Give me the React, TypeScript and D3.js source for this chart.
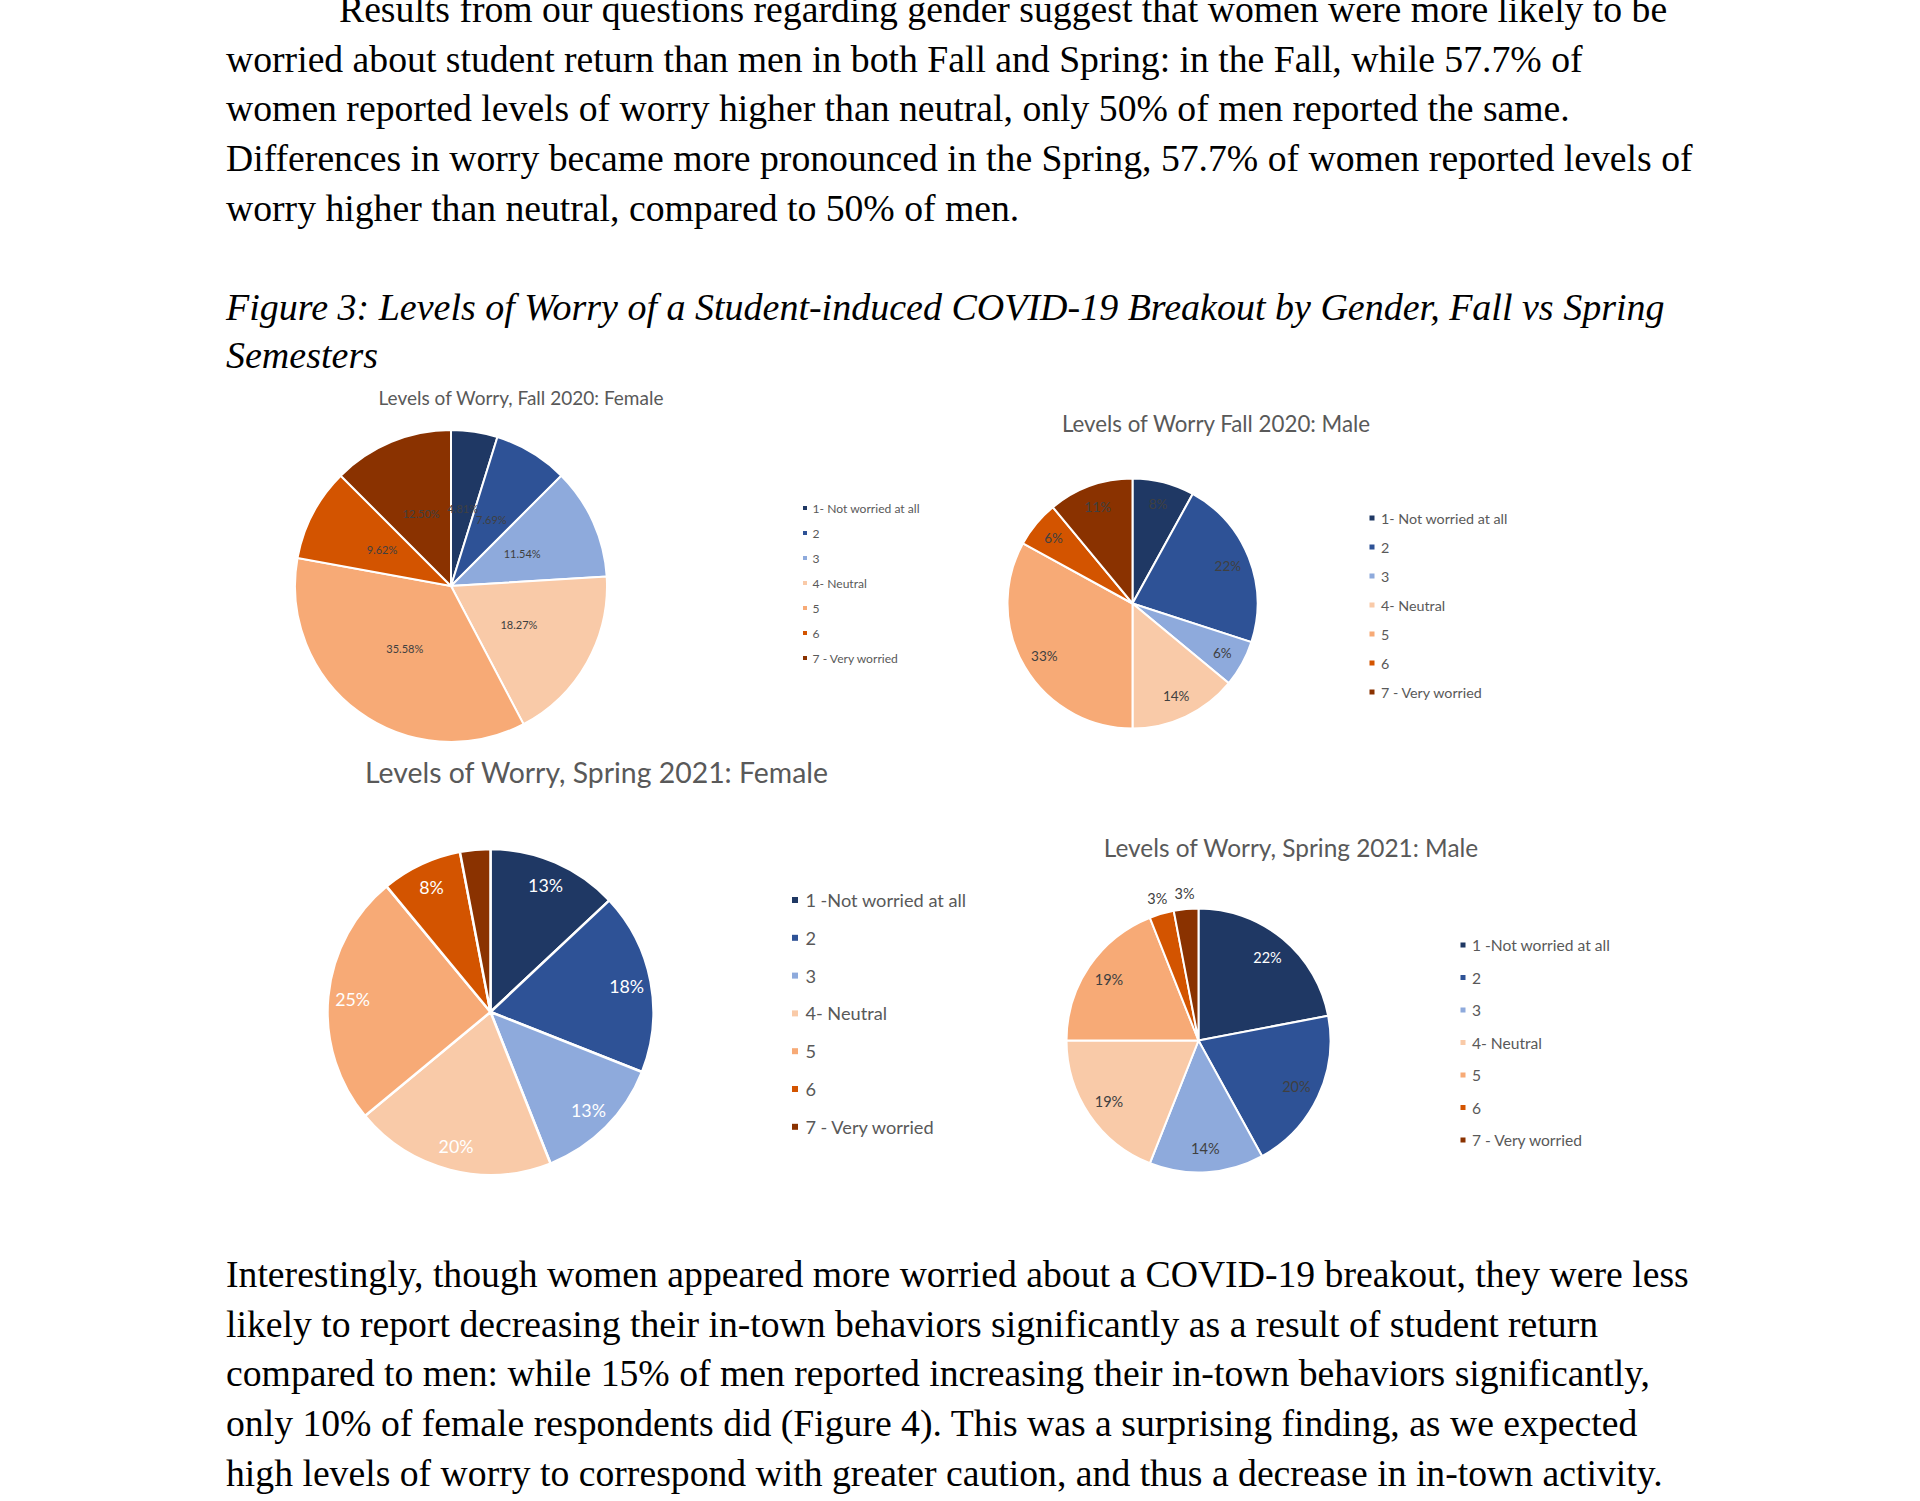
import * as d3 from 'd3';
import * as React from 'react';

const W = 1920;
const H = 1501;

// legend categories (the fall and spring charts spell item 1 differently)
const levelsFall = ['1- Not worried at all', '2', '3', '4- Neutral', '5', '6', '7 - Very worried'];
const levelsSpring = ['1 -Not worried at all', '2', '3', '4- Neutral', '5', '6', '7 - Very worried'];

// percentages per worry level, 1 -> 7
const fallFemale = [4.81, 7.69, 11.54, 18.27, 35.58, 9.62, 12.5];
const fallMale = [8, 22, 6, 14, 33, 6, 11];
const springFemale = [13, 18, 13, 20, 25, 8, 3];
const springMale = [22, 20, 14, 19, 19, 3, 3];

const palette = ['#1f3864', '#2e5296', '#8eaadc', '#f9caa8', '#f7aa76', '#d35400', '#8a3200'];

const paragraphTop = [
  'Results from our questions regarding gender suggest that women were more likely to be',
  'worried about student return than men in both Fall and Spring: in the Fall, while 57.7% of',
  'women reported levels of worry higher than neutral, only 50% of men reported the same.',
  'Differences in worry became more pronounced in the Spring, 57.7% of women reported levels of',
  'worry higher than neutral, compared to 50% of men.',
];
const caption = [
  'Figure 3: Levels of Worry of a Student-induced COVID-19 Breakout by Gender, Fall vs Spring',
  'Semesters',
];
const paragraphBottom = [
  'Interestingly, though women appeared more worried about a COVID-19 breakout, they were less',
  'likely to report decreasing their in-town behaviors significantly as a result of student return',
  'compared to men: while 15% of men reported increasing their in-town behaviors significantly,',
  'only 10% of female respondents did (Figure 4). This was a surprising finding, as we expected',
  'high levels of worry to correspond with greater caution, and thus a decrease in in-town activity.',
];

const serif = "'Liberation Serif', 'Times New Roman', serif";
const sans = "Lato, 'Open Sans', sans-serif";

type Panel = {
  title: string;
  values: number[];
  legend: string[];
  fmt: (v: number) => string;
  cx: number;
  cy: number;
  r: number;
  stroke: number;
  titleX: number;
  titleY: number;
  titleSize: number;
  labelR: number;
  labelSize: number;
  labelFill: (i: number) => string;
  hidden: number[];
  outside: number[];
  legendX: number;
  legendY: number;
  legendStep: number;
  legendSize: number;
  marker: number;
};

const pct2 = (v: number) => d3.format('.2f')(v) + '%';
const pct0 = (v: number) => d3.format('d')(v) + '%';

const panels: Panel[] = [
  {
    title: 'Levels of Worry, Fall 2020: Female',
    values: fallFemale,
    legend: levelsFall,
    fmt: pct2,
    cx: 451, cy: 586, r: 156, stroke: 2,
    titleX: 521, titleY: 405, titleSize: 19,
    labelR: 0.5, labelSize: 11, labelFill: () => '#404040',
    hidden: [], outside: [],
    legendX: 805, legendY: 508, legendStep: 25, legendSize: 12.1, marker: 4,
  },
  {
    title: 'Levels of Worry Fall 2020: Male',
    values: fallMale,
    legend: levelsFall,
    fmt: pct0,
    cx: 1132.5, cy: 603.5, r: 125, stroke: 2,
    titleX: 1216, titleY: 432, titleSize: 22.3,
    labelR: 0.82, labelSize: 13.5, labelFill: () => '#404040',
    hidden: [], outside: [],
    legendX: 1372, legendY: 518, legendStep: 29, legendSize: 14.3, marker: 5,
  },
  {
    title: 'Levels of Worry, Spring 2021: Female',
    values: springFemale,
    legend: levelsSpring,
    fmt: pct0,
    cx: 490.5, cy: 1012, r: 163, stroke: 2.5,
    titleX: 596.5, titleY: 783, titleSize: 28.4,
    labelR: 0.85, labelSize: 17.8, labelFill: () => '#ffffff',
    hidden: [6], outside: [],
    legendX: 795, legendY: 900, legendStep: 37.8, legendSize: 18.2, marker: 6,
  },
  {
    title: 'Levels of Worry, Spring 2021: Male',
    values: springMale,
    legend: levelsSpring,
    fmt: pct0,
    cx: 1198.5, cy: 1040.5, r: 132, stroke: 2,
    titleX: 1291, titleY: 857, titleSize: 24.4,
    labelR: 0.82, labelSize: 14.5, labelFill: i => (i === 0 ? '#ffffff' : '#404040'),
    hidden: [], outside: [5, 6],
    legendX: 1463, legendY: 945, legendStep: 32.5, legendSize: 15.6, marker: 5,
  },
];

const PieChart = ({ p }: { p: Panel }) => {
  const arcs = d3.pie<number>().sort(null).value(d => d)(p.values);
  const arc = d3.arc<d3.PieArcDatum<number>>().innerRadius(0).outerRadius(p.r);
  const labelArc = d3
    .arc<d3.PieArcDatum<number>>()
    .innerRadius(p.r * p.labelR)
    .outerRadius(p.r * p.labelR);
  const outArc = d3
    .arc<d3.PieArcDatum<number>>()
    .innerRadius(p.r * 1.12)
    .outerRadius(p.r * 1.12);
  const color = d3.scaleOrdinal<number, string>().domain(d3.range(7)).range(palette);

  return (
    <g>
      <text
        x={p.titleX}
        y={p.titleY}
        textAnchor="middle"
        fontFamily={sans}
        fontSize={p.titleSize}
        fill="#595959"
      >
        {p.title}
      </text>
      <g transform={`translate(${p.cx},${p.cy})`}>
        {arcs.map((a, i) => (
          <path key={i} d={arc(a) || ''} fill={color(i)} stroke="#fff" strokeWidth={p.stroke} />
        ))}
        {arcs.map((a, i) => {
          if (p.hidden.includes(i)) return null;
          const out = p.outside.includes(i);
          const [x, y] = out ? outArc.centroid(a) : labelArc.centroid(a);
          return (
            <text
              key={i}
              x={x}
              y={y}
              textAnchor="middle"
              dominantBaseline="central"
              fontFamily={sans}
              fontSize={p.labelSize}
              fill={out ? '#404040' : p.labelFill(i)}
            >
              {p.fmt(a.data)}
            </text>
          );
        })}
      </g>
      <g fontFamily={sans} fontSize={p.legendSize} fill="#595959">
        {p.legend.map((name, i) => {
          const y = p.legendY + i * p.legendStep;
          return (
            <g key={name}>
              <rect
                x={p.legendX - p.marker / 2}
                y={y - p.marker / 2}
                width={p.marker}
                height={p.marker}
                fill={color(i)}
              />
              <text x={p.legendX + p.marker * 1.4 + 2} y={y} dominantBaseline="central">
                {name}
              </text>
            </g>
          );
        })}
      </g>
    </g>
  );
};

export default function App() {
  const lineY = (start: number, i: number) => start + i * 49.7;
  return (
    <svg
      width={W}
      height={H}
      viewBox={`0 0 ${W} ${H}`}
      style={{ position: 'absolute', left: 0, top: 0, background: '#fff' }}
    >
      <rect width={W} height={H} fill="#fff" />
      <g fontFamily={serif} fontSize={37.7} fill="#000">
        {paragraphTop.map((t, i) => (
          <text key={i} x={i === 0 ? 339 : 226} y={lineY(22, i)}>
            {t}
          </text>
        ))}
        {caption.map((t, i) => (
          <text key={i} x={226} y={320 + i * 48} fontStyle="italic" fontSize={38}>
            {t}
          </text>
        ))}
        {paragraphBottom.map((t, i) => (
          <text key={i} x={226} y={lineY(1287, i)}>
            {t}
          </text>
        ))}
      </g>
      {panels.map(p => (
        <PieChart key={p.title} p={p} />
      ))}
    </svg>
  );
}
